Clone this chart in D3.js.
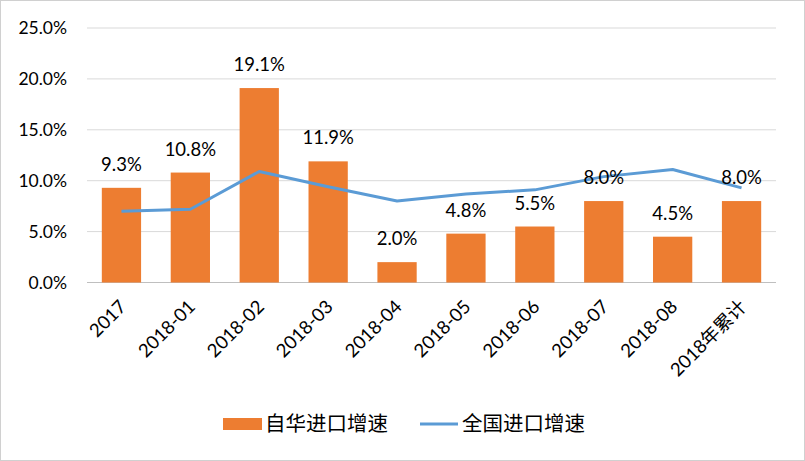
<!DOCTYPE html>
<html>
<head>
    <meta charset="utf-8">
    <script src="https://d3js.org/d3.v7.min.js"></script>
    <style>
        body { margin: 0; background: white; }
        svg { font-family: Lato, "Noto Sans CJK SC", sans-serif; }
    </style>
</head>
<body>
<svg id="chart" width="805" height="461"></svg>
<script>
    const categories = ["2017", "2018-01", "2018-02", "2018-03", "2018-04", "2018-05", "2018-06", "2018-07", "2018-08", "2018年累计"];
    const chinaImport = [9.3, 10.8, 19.1, 11.9, 2.0, 4.8, 5.5, 8.0, 4.5, 8.0];
    const nationalImport = [7.0, 7.2, 10.9, 9.4, 8.0, 8.7, 9.1, 10.4, 11.1, 9.3];
    const yTicks = [0, 5, 10, 15, 20, 25];
    const seriesNames = ["自华进口增速", "全国进口增速"];

    const svg = d3.select("#chart");
    const W = 805, H = 461;

    // outer border
    svg.append("rect")
        .attr("x", 0.5).attr("y", 0.5)
        .attr("width", W - 1).attr("height", H - 1)
        .attr("fill", "white")
        .attr("stroke", "#d0d0d0");

    const x = d3.scaleBand()
        .domain(categories)
        .range([87, 776])
        .paddingInner(0.43)
        .paddingOuter(0.215);

    const y = d3.scaleLinear()
        .domain([0, 25])
        .range([282.5, 28]);

    // gridlines
    svg.append("g")
        .selectAll("line")
        .data(yTicks)
        .join("line")
        .attr("x1", 87).attr("x2", 776)
        .attr("y1", d => y(d)).attr("y2", d => y(d))
        .attr("stroke", d => d === 0 ? "#bfbfbf" : "#d9d9d9")
        .attr("stroke-width", 1);

    // y tick labels
    svg.append("g")
        .selectAll("text")
        .data(yTicks)
        .join("text")
        .attr("x", 67)
        .attr("y", d => y(d))
        .attr("dy", "0.35em")
        .attr("text-anchor", "end")
        .attr("font-size", 17.5)
        .attr("fill", "#000")
        .text(d => d.toFixed(1) + "%");

    // bars
    svg.append("g")
        .selectAll("rect")
        .data(chinaImport)
        .join("rect")
        .attr("x", (d, i) => x(categories[i]))
        .attr("y", d => y(d))
        .attr("width", x.bandwidth())
        .attr("height", d => y(0) - y(d))
        .attr("fill", "#ED7D31");

    // line
    const line = d3.line()
        .x((d, i) => x(categories[i]) + x.bandwidth() / 2)
        .y(d => y(d));

    svg.append("path")
        .datum(nationalImport)
        .attr("d", line)
        .attr("fill", "none")
        .attr("stroke", "#5B9BD5")
        .attr("stroke-width", 3)
        .attr("stroke-linejoin", "round");

    // bar data labels
    svg.append("g")
        .selectAll("text")
        .data(chinaImport)
        .join("text")
        .attr("x", (d, i) => x(categories[i]) + x.bandwidth() / 2)
        .attr("y", d => y(d) - 17)
        .attr("text-anchor", "middle")
        .attr("font-size", 18.5)
        .attr("fill", "#000")
        .text(d => d.toFixed(1) + "%");

    // x labels, rotated
    svg.append("g")
        .selectAll("text")
        .data(categories)
        .join("text")
        .attr("transform", d => `translate(${x(d) + x.bandwidth() / 2 + 6},${308}) rotate(-45)`)
        .attr("text-anchor", "end")
        .attr("font-size", 18.5)
        .attr("fill", "#000")
        .text(d => d);

    // legend
    const leg = svg.append("g");
    leg.append("rect")
        .attr("x", 223).attr("y", 418)
        .attr("width", 39).attr("height", 12)
        .attr("fill", "#ED7D31");
    leg.append("text")
        .attr("x", 265).attr("y", 424)
        .attr("dy", "0.36em")
        .attr("font-size", 20.5)
        .text(seriesNames[0]);
    leg.append("line")
        .attr("x1", 420).attr("x2", 458)
        .attr("y1", 424).attr("y2", 424)
        .attr("stroke", "#5B9BD5")
        .attr("stroke-width", 3);
    leg.append("text")
        .attr("x", 462).attr("y", 424)
        .attr("dy", "0.36em")
        .attr("font-size", 20.5)
        .text(seriesNames[1]);
</script>
</body>
</html>
